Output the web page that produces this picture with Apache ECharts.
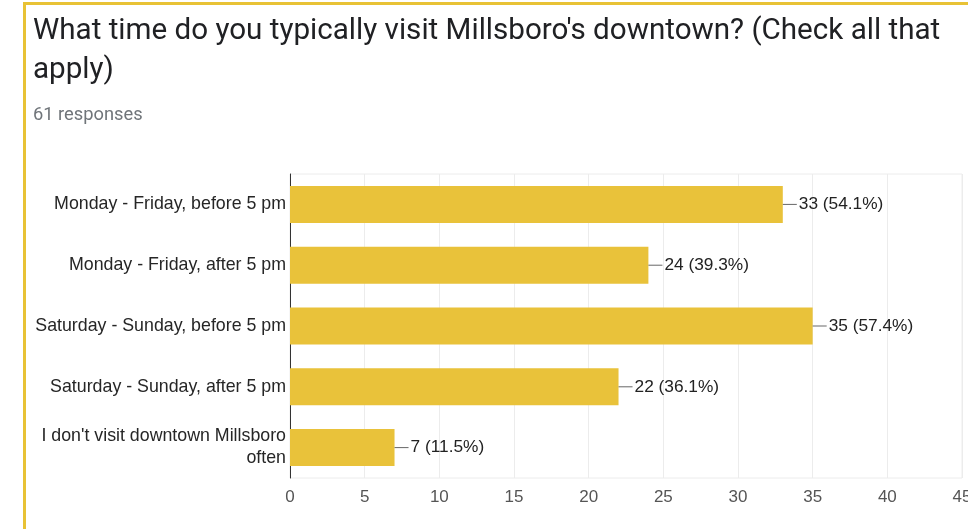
<!DOCTYPE html>
<html><head><meta charset="utf-8">
<script src="https://cdn.jsdelivr.net/npm/echarts@6/dist/echarts.min.js"></script>
<style>html,body{margin:0;padding:0;background:#fff}#c{width:968px;height:529px}</style>
</head><body><div id="c"></div>
<script>
const titleText = "What time do you typically visit Millsboro's downtown? (Check all that\napply)";
const subText = "61 responses";
const categories = [
  "Monday - Friday, before 5 pm",
  "Monday - Friday, after 5 pm",
  "Saturday - Sunday, before 5 pm",
  "Saturday - Sunday, after 5 pm",
  "I don't visit downtown Millsboro\noften"
];
const counts = [33, 24, 35, 22, 7];
const percents = ["54.1%", "39.3%", "57.4%", "36.1%", "11.5%"];
const xTicks = [0, 5, 10, 15, 20, 25, 30, 35, 40, 45];

const chart = echarts.init(document.getElementById('c'), null, {renderer: 'canvas'});
const sans = "'Liberation Sans', Arial, sans-serif";
chart.setOption({
  animation: false,
  backgroundColor: '#fff',
  title: [
    {text: titleText, left: 33, top: 12, padding: 0,
     textStyle: {fontFamily: 'Roboto', fontSize: 29.6, fontWeight: 'normal', color: '#202124', lineHeight: 39}},
    {text: subText, left: 33, top: 106, padding: 0,
     textStyle: {fontFamily: 'Roboto', fontSize: 18.3, fontWeight: 'normal', color: '#70757a'}}
  ],
  graphic: [
    {type: 'rect', shape: {x: 23, y: 2, width: 945, height: 3}, style: {fill: '#e8c235'}, z: 100},
    {type: 'rect', shape: {x: 23, y: 2, width: 3, height: 527}, style: {fill: '#e8c235'}, z: 100}
  ],
  grid: {left: 290, right: 6, top: 174, bottom: 51, show: true, borderColor: '#ececec', borderWidth: 1,
         outerBoundsMode: 'none', containLabel: false},
  xAxis: {
    type: 'value', min: xTicks[0], max: xTicks[xTicks.length - 1], interval: 5,
    axisLine: {show: false}, axisTick: {show: false},
    splitLine: {lineStyle: {color: '#ececec'}},
    axisLabel: {fontFamily: sans, fontSize: 17, color: '#555', margin: 11, hideOverlap: false}
  },
  yAxis: {
    type: 'category', inverse: true, data: categories,
    axisLine: {show: true, lineStyle: {color: '#333'}},
    axisTick: {show: false},
    axisLabel: {fontFamily: sans, fontSize: 17.8, color: '#262626', margin: 4, lineHeight: 22}
  },
  series: [{
    type: 'bar', data: counts, barWidth: 37,
    itemStyle: {color: '#e9c23a'},
    label: {
      show: true, position: 'right', distance: 0,
      formatter: p => '{l|}{t|' + counts[p.dataIndex] + ' (' + percents[p.dataIndex] + ')}',
      rich: {
        l: {width: 14, height: 1, backgroundColor: '#666'},
        t: {fontFamily: sans, fontSize: 17.3, color: '#222', padding: [0, 0, 0, 2]}
      }
    }
  }]
});
</script></body></html>
